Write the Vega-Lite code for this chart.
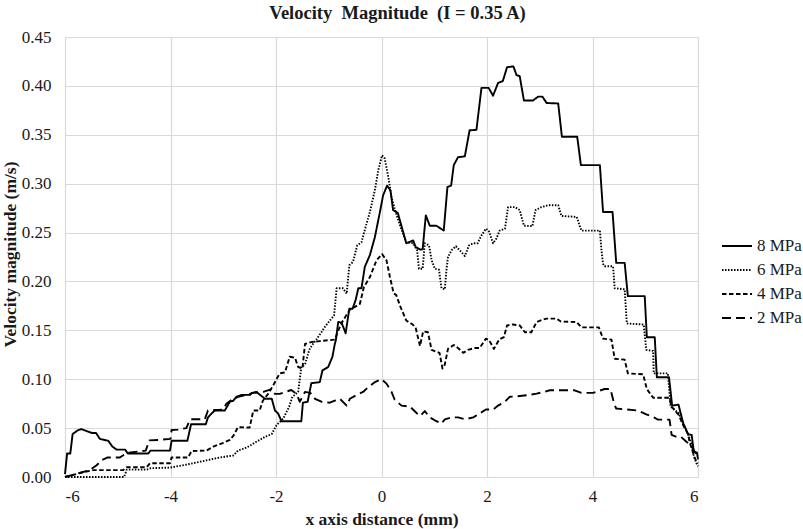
{
  "$schema": "https://vega.github.io/schema/vega-lite/v6.json",
  "description": "Velocity magnitude along the x axis at I = 0.35 A, four pressures",
  "width": 633,
  "height": 440,
  "autosize": {"type": "none"},
  "padding": {"left": 65, "top": 37, "right": 105, "bottom": 52},
  "background": "white",
  "config": {
    "font": "Liberation Serif",
    "view": {"stroke": null},
    "axis": {
      "labelFont": "Liberation Serif", "labelFontSize": 17, "labelColor": "#1a1a1a",
      "titleFont": "Liberation Serif", "titleFontSize": 17.5, "titleFontWeight": "bold", "titleColor": "#1a1a1a",
      "gridColor": "#d9d9d9", "gridWidth": 1.2, "domain": false, "ticks": false
    }
  },
  "title": {
    "text": "Velocity\u00a0 Magnitude\u00a0 (I = 0.35 A)",
    "font": "Liberation Serif", "fontSize": 18.5, "fontWeight": "bold", "color": "#1a1a1a",
    "anchor": "middle", "dx": 16, "offset": 6
  },
  "data": {
    "values": [
      {"p": "8 MPa", "x": -6.0, "v": 0.003}, {"p": "8 MPa", "x": -5.96, "v": 0.024}, {"p": "8 MPa", "x": -5.9, "v": 0.024},
      {"p": "8 MPa", "x": -5.855, "v": 0.044}, {"p": "8 MPa", "x": -5.75, "v": 0.048}, {"p": "8 MPa", "x": -5.69, "v": 0.049},
      {"p": "8 MPa", "x": -5.59, "v": 0.047}, {"p": "8 MPa", "x": -5.49, "v": 0.045}, {"p": "8 MPa", "x": -5.41, "v": 0.045},
      {"p": "8 MPa", "x": -5.34, "v": 0.039}, {"p": "8 MPa", "x": -5.18, "v": 0.037}, {"p": "8 MPa", "x": -5.1, "v": 0.031},
      {"p": "8 MPa", "x": -5.02, "v": 0.028}, {"p": "8 MPa", "x": -4.86, "v": 0.028}, {"p": "8 MPa", "x": -4.81, "v": 0.024},
      {"p": "8 MPa", "x": -4.42, "v": 0.024}, {"p": "8 MPa", "x": -4.38, "v": 0.027}, {"p": "8 MPa", "x": -4.01, "v": 0.027},
      {"p": "8 MPa", "x": -3.98, "v": 0.037}, {"p": "8 MPa", "x": -3.68, "v": 0.037}, {"p": "8 MPa", "x": -3.61, "v": 0.054},
      {"p": "8 MPa", "x": -3.33, "v": 0.054}, {"p": "8 MPa", "x": -3.29, "v": 0.061}, {"p": "8 MPa", "x": -3.22, "v": 0.065},
      {"p": "8 MPa", "x": -3.16, "v": 0.068}, {"p": "8 MPa", "x": -2.97, "v": 0.068}, {"p": "8 MPa", "x": -2.875, "v": 0.077},
      {"p": "8 MPa", "x": -2.81, "v": 0.078}, {"p": "8 MPa", "x": -2.75, "v": 0.082}, {"p": "8 MPa", "x": -2.65, "v": 0.084},
      {"p": "8 MPa", "x": -2.49, "v": 0.084}, {"p": "8 MPa", "x": -2.46, "v": 0.086}, {"p": "8 MPa", "x": -2.37, "v": 0.087},
      {"p": "8 MPa", "x": -2.21, "v": 0.08}, {"p": "8 MPa", "x": -2.08, "v": 0.08}, {"p": "8 MPa", "x": -2.02, "v": 0.068},
      {"p": "8 MPa", "x": -1.96, "v": 0.065}, {"p": "8 MPa", "x": -1.895, "v": 0.057}, {"p": "8 MPa", "x": -1.52, "v": 0.057},
      {"p": "8 MPa", "x": -1.49, "v": 0.076}, {"p": "8 MPa", "x": -1.4, "v": 0.077}, {"p": "8 MPa", "x": -1.33, "v": 0.096},
      {"p": "8 MPa", "x": -1.17, "v": 0.097}, {"p": "8 MPa", "x": -1.12, "v": 0.109}, {"p": "8 MPa", "x": -1.01, "v": 0.1125},
      {"p": "8 MPa", "x": -0.93, "v": 0.123}, {"p": "8 MPa", "x": -0.885, "v": 0.136}, {"p": "8 MPa", "x": -0.865, "v": 0.14},
      {"p": "8 MPa", "x": -0.82, "v": 0.1585}, {"p": "8 MPa", "x": -0.76, "v": 0.158}, {"p": "8 MPa", "x": -0.715, "v": 0.152},
      {"p": "8 MPa", "x": -0.68, "v": 0.147}, {"p": "8 MPa", "x": -0.61, "v": 0.172}, {"p": "8 MPa", "x": -0.55, "v": 0.172},
      {"p": "8 MPa", "x": -0.49, "v": 0.181}, {"p": "8 MPa", "x": -0.44, "v": 0.193}, {"p": "8 MPa", "x": -0.38, "v": 0.193},
      {"p": "8 MPa", "x": -0.316, "v": 0.215}, {"p": "8 MPa", "x": -0.22, "v": 0.227}, {"p": "8 MPa", "x": -0.127, "v": 0.245},
      {"p": "8 MPa", "x": -0.03, "v": 0.271}, {"p": "8 MPa", "x": 0.03, "v": 0.288}, {"p": "8 MPa", "x": 0.106, "v": 0.298},
      {"p": "8 MPa", "x": 0.17, "v": 0.293}, {"p": "8 MPa", "x": 0.22, "v": 0.273}, {"p": "8 MPa", "x": 0.31, "v": 0.27},
      {"p": "8 MPa", "x": 0.47, "v": 0.239}, {"p": "8 MPa", "x": 0.6, "v": 0.242}, {"p": "8 MPa", "x": 0.65, "v": 0.235},
      {"p": "8 MPa", "x": 0.74, "v": 0.2325}, {"p": "8 MPa", "x": 0.78, "v": 0.233}, {"p": "8 MPa", "x": 0.84, "v": 0.2676},
      {"p": "8 MPa", "x": 0.915, "v": 0.257}, {"p": "8 MPa", "x": 1.04, "v": 0.257}, {"p": "8 MPa", "x": 1.18, "v": 0.252},
      {"p": "8 MPa", "x": 1.25, "v": 0.2966}, {"p": "8 MPa", "x": 1.32, "v": 0.298}, {"p": "8 MPa", "x": 1.37, "v": 0.319},
      {"p": "8 MPa", "x": 1.45, "v": 0.327}, {"p": "8 MPa", "x": 1.58, "v": 0.328}, {"p": "8 MPa", "x": 1.67, "v": 0.3546},
      {"p": "8 MPa", "x": 1.8, "v": 0.355}, {"p": "8 MPa", "x": 1.895, "v": 0.398}, {"p": "8 MPa", "x": 2.03, "v": 0.398},
      {"p": "8 MPa", "x": 2.115, "v": 0.39}, {"p": "8 MPa", "x": 2.21, "v": 0.403}, {"p": "8 MPa", "x": 2.3, "v": 0.405},
      {"p": "8 MPa", "x": 2.38, "v": 0.419}, {"p": "8 MPa", "x": 2.5, "v": 0.42}, {"p": "8 MPa", "x": 2.56, "v": 0.411},
      {"p": "8 MPa", "x": 2.62, "v": 0.41}, {"p": "8 MPa", "x": 2.7, "v": 0.385}, {"p": "8 MPa", "x": 2.87, "v": 0.385},
      {"p": "8 MPa", "x": 2.97, "v": 0.389}, {"p": "8 MPa", "x": 3.05, "v": 0.389}, {"p": "8 MPa", "x": 3.13, "v": 0.3825},
      {"p": "8 MPa", "x": 3.35, "v": 0.382}, {"p": "8 MPa", "x": 3.42, "v": 0.348}, {"p": "8 MPa", "x": 3.71, "v": 0.348},
      {"p": "8 MPa", "x": 3.78, "v": 0.319}, {"p": "8 MPa", "x": 4.14, "v": 0.319}, {"p": "8 MPa", "x": 4.2, "v": 0.271},
      {"p": "8 MPa", "x": 4.38, "v": 0.271}, {"p": "8 MPa", "x": 4.45, "v": 0.219}, {"p": "8 MPa", "x": 4.61, "v": 0.219},
      {"p": "8 MPa", "x": 4.67, "v": 0.185}, {"p": "8 MPa", "x": 4.99, "v": 0.185}, {"p": "8 MPa", "x": 5.03, "v": 0.143},
      {"p": "8 MPa", "x": 5.18, "v": 0.143}, {"p": "8 MPa", "x": 5.22, "v": 0.102}, {"p": "8 MPa", "x": 5.45, "v": 0.102},
      {"p": "8 MPa", "x": 5.51, "v": 0.073}, {"p": "8 MPa", "x": 5.63, "v": 0.074}, {"p": "8 MPa", "x": 5.72, "v": 0.055},
      {"p": "8 MPa", "x": 5.81, "v": 0.044}, {"p": "8 MPa", "x": 5.88, "v": 0.043}, {"p": "8 MPa", "x": 5.92, "v": 0.026},
      {"p": "8 MPa", "x": 5.98, "v": 0.025}, {"p": "8 MPa", "x": 6.0, "v": 0.018},

      {"p": "6 MPa", "x": -6.0, "v": 0.0}, {"p": "6 MPa", "x": -4.88, "v": 0.0}, {"p": "6 MPa", "x": -4.83, "v": 0.0075},
      {"p": "6 MPa", "x": -4.45, "v": 0.0075}, {"p": "6 MPa", "x": -4.38, "v": 0.009}, {"p": "6 MPa", "x": -4.01, "v": 0.0096},
      {"p": "6 MPa", "x": -3.665, "v": 0.013}, {"p": "6 MPa", "x": -3.32, "v": 0.017}, {"p": "6 MPa", "x": -3.06, "v": 0.02},
      {"p": "6 MPa", "x": -2.81, "v": 0.022}, {"p": "6 MPa", "x": -2.72, "v": 0.027}, {"p": "6 MPa", "x": -2.56, "v": 0.03},
      {"p": "6 MPa", "x": -2.37, "v": 0.036}, {"p": "6 MPa", "x": -2.21, "v": 0.041}, {"p": "6 MPa", "x": -2.08, "v": 0.044},
      {"p": "6 MPa", "x": -1.99, "v": 0.053}, {"p": "6 MPa", "x": -1.86, "v": 0.06}, {"p": "6 MPa", "x": -1.75, "v": 0.072},
      {"p": "6 MPa", "x": -1.69, "v": 0.082}, {"p": "6 MPa", "x": -1.58, "v": 0.087}, {"p": "6 MPa", "x": -1.52, "v": 0.1125},
      {"p": "6 MPa", "x": -1.45, "v": 0.115}, {"p": "6 MPa", "x": -1.37, "v": 0.13}, {"p": "6 MPa", "x": -1.3, "v": 0.136},
      {"p": "6 MPa", "x": -1.23, "v": 0.141}, {"p": "6 MPa", "x": -1.14, "v": 0.148}, {"p": "6 MPa", "x": -1.08, "v": 0.153},
      {"p": "6 MPa", "x": -0.98, "v": 0.16}, {"p": "6 MPa", "x": -0.9, "v": 0.165}, {"p": "6 MPa", "x": -0.85, "v": 0.193},
      {"p": "6 MPa", "x": -0.73, "v": 0.193}, {"p": "6 MPa", "x": -0.66, "v": 0.1875}, {"p": "6 MPa", "x": -0.61, "v": 0.2165},
      {"p": "6 MPa", "x": -0.54, "v": 0.22}, {"p": "6 MPa", "x": -0.46, "v": 0.237}, {"p": "6 MPa", "x": -0.38, "v": 0.24},
      {"p": "6 MPa", "x": -0.3, "v": 0.256}, {"p": "6 MPa", "x": -0.22, "v": 0.271}, {"p": "6 MPa", "x": -0.127, "v": 0.293},
      {"p": "6 MPa", "x": -0.06, "v": 0.314}, {"p": "6 MPa", "x": 0.01, "v": 0.329}, {"p": "6 MPa", "x": 0.06, "v": 0.326},
      {"p": "6 MPa", "x": 0.125, "v": 0.308}, {"p": "6 MPa", "x": 0.19, "v": 0.286}, {"p": "6 MPa", "x": 0.28, "v": 0.269},
      {"p": "6 MPa", "x": 0.36, "v": 0.256}, {"p": "6 MPa", "x": 0.47, "v": 0.24}, {"p": "6 MPa", "x": 0.6, "v": 0.239},
      {"p": "6 MPa", "x": 0.675, "v": 0.232}, {"p": "6 MPa", "x": 0.71, "v": 0.213}, {"p": "6 MPa", "x": 0.78, "v": 0.213},
      {"p": "6 MPa", "x": 0.82, "v": 0.239}, {"p": "6 MPa", "x": 0.9, "v": 0.237}, {"p": "6 MPa", "x": 0.95, "v": 0.222},
      {"p": "6 MPa", "x": 1.01, "v": 0.213}, {"p": "6 MPa", "x": 1.09, "v": 0.212}, {"p": "6 MPa", "x": 1.137, "v": 0.193},
      {"p": "6 MPa", "x": 1.2, "v": 0.192}, {"p": "6 MPa", "x": 1.23, "v": 0.211}, {"p": "6 MPa", "x": 1.26, "v": 0.225},
      {"p": "6 MPa", "x": 1.33, "v": 0.232}, {"p": "6 MPa", "x": 1.41, "v": 0.236}, {"p": "6 MPa", "x": 1.48, "v": 0.232},
      {"p": "6 MPa", "x": 1.58, "v": 0.226}, {"p": "6 MPa", "x": 1.66, "v": 0.237}, {"p": "6 MPa", "x": 1.74, "v": 0.239},
      {"p": "6 MPa", "x": 1.82, "v": 0.239}, {"p": "6 MPa", "x": 1.895, "v": 0.247}, {"p": "6 MPa", "x": 1.98, "v": 0.254},
      {"p": "6 MPa", "x": 2.04, "v": 0.251}, {"p": "6 MPa", "x": 2.115, "v": 0.239}, {"p": "6 MPa", "x": 2.18, "v": 0.244},
      {"p": "6 MPa", "x": 2.24, "v": 0.252}, {"p": "6 MPa", "x": 2.34, "v": 0.254}, {"p": "6 MPa", "x": 2.4, "v": 0.276},
      {"p": "6 MPa", "x": 2.53, "v": 0.276}, {"p": "6 MPa", "x": 2.62, "v": 0.273}, {"p": "6 MPa", "x": 2.7, "v": 0.257},
      {"p": "6 MPa", "x": 2.86, "v": 0.2565}, {"p": "6 MPa", "x": 2.92, "v": 0.273}, {"p": "6 MPa", "x": 3.03, "v": 0.276},
      {"p": "6 MPa", "x": 3.16, "v": 0.278}, {"p": "6 MPa", "x": 3.35, "v": 0.278}, {"p": "6 MPa", "x": 3.41, "v": 0.267},
      {"p": "6 MPa", "x": 3.7, "v": 0.266}, {"p": "6 MPa", "x": 3.79, "v": 0.252}, {"p": "6 MPa", "x": 4.14, "v": 0.252},
      {"p": "6 MPa", "x": 4.17, "v": 0.232}, {"p": "6 MPa", "x": 4.2, "v": 0.218}, {"p": "6 MPa", "x": 4.23, "v": 0.2155},
      {"p": "6 MPa", "x": 4.39, "v": 0.2155}, {"p": "6 MPa", "x": 4.42, "v": 0.193}, {"p": "6 MPa", "x": 4.61, "v": 0.192},
      {"p": "6 MPa", "x": 4.65, "v": 0.157}, {"p": "6 MPa", "x": 4.97, "v": 0.156}, {"p": "6 MPa", "x": 5.02, "v": 0.13},
      {"p": "6 MPa", "x": 5.15, "v": 0.129}, {"p": "6 MPa", "x": 5.16, "v": 0.106}, {"p": "6 MPa", "x": 5.43, "v": 0.106},
      {"p": "6 MPa", "x": 5.48, "v": 0.072}, {"p": "6 MPa", "x": 5.64, "v": 0.065}, {"p": "6 MPa", "x": 5.68, "v": 0.058},
      {"p": "6 MPa", "x": 5.78, "v": 0.048}, {"p": "6 MPa", "x": 5.83, "v": 0.041}, {"p": "6 MPa", "x": 5.875, "v": 0.034},
      {"p": "6 MPa", "x": 5.92, "v": 0.022}, {"p": "6 MPa", "x": 5.97, "v": 0.014}, {"p": "6 MPa", "x": 6.0, "v": 0.011},

      {"p": "4 MPa", "x": -6.0, "v": 0.0}, {"p": "4 MPa", "x": -5.65, "v": 0.005}, {"p": "4 MPa", "x": -5.46, "v": 0.007},
      {"p": "4 MPa", "x": -4.9, "v": 0.007}, {"p": "4 MPa", "x": -4.83, "v": 0.01}, {"p": "4 MPa", "x": -4.45, "v": 0.01},
      {"p": "4 MPa", "x": -4.39, "v": 0.014}, {"p": "4 MPa", "x": -4.01, "v": 0.014}, {"p": "4 MPa", "x": -3.98, "v": 0.02},
      {"p": "4 MPa", "x": -3.665, "v": 0.02}, {"p": "4 MPa", "x": -3.6, "v": 0.0266}, {"p": "4 MPa", "x": -3.32, "v": 0.027},
      {"p": "4 MPa", "x": -3.19, "v": 0.031}, {"p": "4 MPa", "x": -3.0, "v": 0.035}, {"p": "4 MPa", "x": -2.875, "v": 0.038},
      {"p": "4 MPa", "x": -2.81, "v": 0.042}, {"p": "4 MPa", "x": -2.72, "v": 0.051}, {"p": "4 MPa", "x": -2.5, "v": 0.0505},
      {"p": "4 MPa", "x": -2.43, "v": 0.068}, {"p": "4 MPa", "x": -2.31, "v": 0.068}, {"p": "4 MPa", "x": -2.25, "v": 0.078},
      {"p": "4 MPa", "x": -2.15, "v": 0.085}, {"p": "4 MPa", "x": -2.05, "v": 0.094}, {"p": "4 MPa", "x": -1.93, "v": 0.106},
      {"p": "4 MPa", "x": -1.83, "v": 0.107}, {"p": "4 MPa", "x": -1.74, "v": 0.123}, {"p": "4 MPa", "x": -1.64, "v": 0.122},
      {"p": "4 MPa", "x": -1.58, "v": 0.1125}, {"p": "4 MPa", "x": -1.5, "v": 0.111}, {"p": "4 MPa", "x": -1.45, "v": 0.136},
      {"p": "4 MPa", "x": -1.33, "v": 0.138}, {"p": "4 MPa", "x": -1.17, "v": 0.139}, {"p": "4 MPa", "x": -0.885, "v": 0.1405},
      {"p": "4 MPa", "x": -0.78, "v": 0.155}, {"p": "4 MPa", "x": -0.73, "v": 0.16}, {"p": "4 MPa", "x": -0.6, "v": 0.171},
      {"p": "4 MPa", "x": -0.41, "v": 0.177}, {"p": "4 MPa", "x": -0.335, "v": 0.194}, {"p": "4 MPa", "x": -0.22, "v": 0.2045},
      {"p": "4 MPa", "x": -0.095, "v": 0.2216}, {"p": "4 MPa", "x": 0.01, "v": 0.228}, {"p": "4 MPa", "x": 0.095, "v": 0.2216},
      {"p": "4 MPa", "x": 0.16, "v": 0.2045}, {"p": "4 MPa", "x": 0.23, "v": 0.188}, {"p": "4 MPa", "x": 0.28, "v": 0.186},
      {"p": "4 MPa", "x": 0.36, "v": 0.174}, {"p": "4 MPa", "x": 0.47, "v": 0.16}, {"p": "4 MPa", "x": 0.59, "v": 0.156},
      {"p": "4 MPa", "x": 0.65, "v": 0.152}, {"p": "4 MPa", "x": 0.73, "v": 0.134}, {"p": "4 MPa", "x": 0.79, "v": 0.149},
      {"p": "4 MPa", "x": 0.88, "v": 0.148}, {"p": "4 MPa", "x": 0.95, "v": 0.13}, {"p": "4 MPa", "x": 1.04, "v": 0.128},
      {"p": "4 MPa", "x": 1.1, "v": 0.127}, {"p": "4 MPa", "x": 1.156, "v": 0.111}, {"p": "4 MPa", "x": 1.2, "v": 0.115},
      {"p": "4 MPa", "x": 1.26, "v": 0.131}, {"p": "4 MPa", "x": 1.37, "v": 0.135}, {"p": "4 MPa", "x": 1.45, "v": 0.132},
      {"p": "4 MPa", "x": 1.55, "v": 0.127}, {"p": "4 MPa", "x": 1.64, "v": 0.13}, {"p": "4 MPa", "x": 1.77, "v": 0.132},
      {"p": "4 MPa", "x": 1.86, "v": 0.132}, {"p": "4 MPa", "x": 1.98, "v": 0.1415}, {"p": "4 MPa", "x": 2.04, "v": 0.14},
      {"p": "4 MPa", "x": 2.13, "v": 0.131}, {"p": "4 MPa", "x": 2.23, "v": 0.1405}, {"p": "4 MPa", "x": 2.32, "v": 0.143},
      {"p": "4 MPa", "x": 2.38, "v": 0.155}, {"p": "4 MPa", "x": 2.49, "v": 0.156}, {"p": "4 MPa", "x": 2.62, "v": 0.155},
      {"p": "4 MPa", "x": 2.72, "v": 0.148}, {"p": "4 MPa", "x": 2.84, "v": 0.148}, {"p": "4 MPa", "x": 2.94, "v": 0.1585},
      {"p": "4 MPa", "x": 3.06, "v": 0.161}, {"p": "4 MPa", "x": 3.13, "v": 0.162}, {"p": "4 MPa", "x": 3.32, "v": 0.162},
      {"p": "4 MPa", "x": 3.4, "v": 0.159}, {"p": "4 MPa", "x": 3.7, "v": 0.1585}, {"p": "4 MPa", "x": 3.79, "v": 0.153},
      {"p": "4 MPa", "x": 4.12, "v": 0.153}, {"p": "4 MPa", "x": 4.2, "v": 0.1415}, {"p": "4 MPa", "x": 4.36, "v": 0.1405},
      {"p": "4 MPa", "x": 4.42, "v": 0.121}, {"p": "4 MPa", "x": 4.61, "v": 0.12}, {"p": "4 MPa", "x": 4.67, "v": 0.106},
      {"p": "4 MPa", "x": 4.96, "v": 0.105}, {"p": "4 MPa", "x": 5.03, "v": 0.09}, {"p": "4 MPa", "x": 5.15, "v": 0.081},
      {"p": "4 MPa", "x": 5.46, "v": 0.081}, {"p": "4 MPa", "x": 5.5, "v": 0.072}, {"p": "4 MPa", "x": 5.64, "v": 0.063},
      {"p": "4 MPa", "x": 5.72, "v": 0.053}, {"p": "4 MPa", "x": 5.81, "v": 0.044}, {"p": "4 MPa", "x": 5.84, "v": 0.036},
      {"p": "4 MPa", "x": 5.94, "v": 0.019}, {"p": "4 MPa", "x": 5.97, "v": 0.016}, {"p": "4 MPa", "x": 6.0, "v": 0.014},

      {"p": "2 MPa", "x": -6.0, "v": 0.0}, {"p": "2 MPa", "x": -5.53, "v": 0.007}, {"p": "2 MPa", "x": -5.4, "v": 0.012},
      {"p": "2 MPa", "x": -5.31, "v": 0.017}, {"p": "2 MPa", "x": -5.19, "v": 0.02}, {"p": "2 MPa", "x": -4.96, "v": 0.02},
      {"p": "2 MPa", "x": -4.83, "v": 0.0245}, {"p": "2 MPa", "x": -4.47, "v": 0.027}, {"p": "2 MPa", "x": -4.4, "v": 0.0375},
      {"p": "2 MPa", "x": -4.2, "v": 0.038}, {"p": "2 MPa", "x": -4.0, "v": 0.039}, {"p": "2 MPa", "x": -3.98, "v": 0.048},
      {"p": "2 MPa", "x": -3.86, "v": 0.0485}, {"p": "2 MPa", "x": -3.7, "v": 0.05}, {"p": "2 MPa", "x": -3.63, "v": 0.059},
      {"p": "2 MPa", "x": -3.35, "v": 0.059}, {"p": "2 MPa", "x": -3.29, "v": 0.068}, {"p": "2 MPa", "x": -3.0, "v": 0.069},
      {"p": "2 MPa", "x": -2.94, "v": 0.075}, {"p": "2 MPa", "x": -2.84, "v": 0.079}, {"p": "2 MPa", "x": -2.72, "v": 0.082},
      {"p": "2 MPa", "x": -2.56, "v": 0.084}, {"p": "2 MPa", "x": -2.43, "v": 0.086}, {"p": "2 MPa", "x": -2.24, "v": 0.087},
      {"p": "2 MPa", "x": -2.08, "v": 0.09}, {"p": "2 MPa", "x": -2.02, "v": 0.085}, {"p": "2 MPa", "x": -1.93, "v": 0.085},
      {"p": "2 MPa", "x": -1.71, "v": 0.089}, {"p": "2 MPa", "x": -1.61, "v": 0.085}, {"p": "2 MPa", "x": -1.55, "v": 0.077},
      {"p": "2 MPa", "x": -1.45, "v": 0.087}, {"p": "2 MPa", "x": -1.35, "v": 0.086}, {"p": "2 MPa", "x": -1.26, "v": 0.08},
      {"p": "2 MPa", "x": -1.14, "v": 0.077}, {"p": "2 MPa", "x": -0.98, "v": 0.076}, {"p": "2 MPa", "x": -0.885, "v": 0.078},
      {"p": "2 MPa", "x": -0.79, "v": 0.08}, {"p": "2 MPa", "x": -0.66, "v": 0.073}, {"p": "2 MPa", "x": -0.6, "v": 0.08},
      {"p": "2 MPa", "x": -0.47, "v": 0.084}, {"p": "2 MPa", "x": -0.35, "v": 0.087}, {"p": "2 MPa", "x": -0.25, "v": 0.092},
      {"p": "2 MPa", "x": -0.127, "v": 0.097}, {"p": "2 MPa", "x": 0.0, "v": 0.1}, {"p": "2 MPa", "x": 0.095, "v": 0.0955},
      {"p": "2 MPa", "x": 0.19, "v": 0.087}, {"p": "2 MPa", "x": 0.25, "v": 0.079}, {"p": "2 MPa", "x": 0.38, "v": 0.073},
      {"p": "2 MPa", "x": 0.54, "v": 0.072}, {"p": "2 MPa", "x": 0.675, "v": 0.065}, {"p": "2 MPa", "x": 0.74, "v": 0.0625},
      {"p": "2 MPa", "x": 0.82, "v": 0.0675}, {"p": "2 MPa", "x": 0.915, "v": 0.061}, {"p": "2 MPa", "x": 1.01, "v": 0.058},
      {"p": "2 MPa", "x": 1.137, "v": 0.0546}, {"p": "2 MPa", "x": 1.2, "v": 0.059}, {"p": "2 MPa", "x": 1.33, "v": 0.061},
      {"p": "2 MPa", "x": 1.45, "v": 0.061}, {"p": "2 MPa", "x": 1.58, "v": 0.059}, {"p": "2 MPa", "x": 1.74, "v": 0.061},
      {"p": "2 MPa", "x": 1.86, "v": 0.065}, {"p": "2 MPa", "x": 1.98, "v": 0.069}, {"p": "2 MPa", "x": 2.115, "v": 0.069},
      {"p": "2 MPa", "x": 2.21, "v": 0.073}, {"p": "2 MPa", "x": 2.34, "v": 0.077}, {"p": "2 MPa", "x": 2.43, "v": 0.082},
      {"p": "2 MPa", "x": 2.56, "v": 0.0825}, {"p": "2 MPa", "x": 2.75, "v": 0.0836}, {"p": "2 MPa", "x": 2.94, "v": 0.0853},
      {"p": "2 MPa", "x": 3.09, "v": 0.087}, {"p": "2 MPa", "x": 3.19, "v": 0.0887}, {"p": "2 MPa", "x": 3.66, "v": 0.0887},
      {"p": "2 MPa", "x": 3.79, "v": 0.086}, {"p": "2 MPa", "x": 4.01, "v": 0.086}, {"p": "2 MPa", "x": 4.23, "v": 0.09},
      {"p": "2 MPa", "x": 4.34, "v": 0.09}, {"p": "2 MPa", "x": 4.41, "v": 0.075}, {"p": "2 MPa", "x": 4.45, "v": 0.07},
      {"p": "2 MPa", "x": 4.86, "v": 0.068}, {"p": "2 MPa", "x": 5.02, "v": 0.064}, {"p": "2 MPa", "x": 5.15, "v": 0.0614},
      {"p": "2 MPa", "x": 5.24, "v": 0.0587}, {"p": "2 MPa", "x": 5.46, "v": 0.0587}, {"p": "2 MPa", "x": 5.5, "v": 0.043},
      {"p": "2 MPa", "x": 5.59, "v": 0.041}, {"p": "2 MPa", "x": 5.68, "v": 0.041}, {"p": "2 MPa", "x": 5.78, "v": 0.036},
      {"p": "2 MPa", "x": 5.875, "v": 0.032}, {"p": "2 MPa", "x": 5.94, "v": 0.0256}, {"p": "2 MPa", "x": 5.97, "v": 0.024},
      {"p": "2 MPa", "x": 6.0, "v": 0.021}
    ]
  },
  "mark": {"type": "line", "color": "#000000", "strokeWidth": 1.9, "strokeCap": "butt", "strokeJoin": "round"},
  "encoding": {
    "x": {
      "field": "x", "type": "quantitative",
      "scale": {"domain": [-6, 6], "nice": false},
      "axis": {
        "values": [-6, -4, -2, 0, 2, 4, 6],
        "labelExpr": "toString(datum.value)",
        "labelPadding": 11,
        "title": "x axis distance (mm)",
        "titleBaseline": "alphabetic",
        "titleY": 47
      }
    },
    "y": {
      "field": "v", "type": "quantitative",
      "scale": {"domain": [0, 0.45], "nice": false},
      "axis": {
        "values": [0, 0.05, 0.1, 0.15, 0.2, 0.25, 0.3, 0.35, 0.4, 0.45],
        "format": ".2f",
        "labelPadding": 14,
        "title": "Velocity magnitude (m/s)",
        "titleX": -46,
        "titleY": 217
      }
    },
    "strokeDash": {
      "field": "p", "type": "nominal",
      "scale": {
        "domain": ["8 MPa", "6 MPa", "4 MPa", "2 MPa"],
        "range": [[1, 0], [1.5, 1.5], [4.5, 2.5], [9, 5]]
      },
      "legend": {
        "title": null,
        "orient": "none",
        "legendX": 656,
        "legendY": 193,
        "padding": 0,
        "symbolType": "stroke",
        "symbolSize": 900,
        "symbolStrokeColor": "#000000",
        "symbolStrokeWidth": 1.9,
        "rowPadding": -4,
        "labelOffset": 4,
        "labelFont": "Liberation Serif",
        "labelFontSize": 17,
        "labelColor": "#1a1a1a"
      }
    }
  }
}
